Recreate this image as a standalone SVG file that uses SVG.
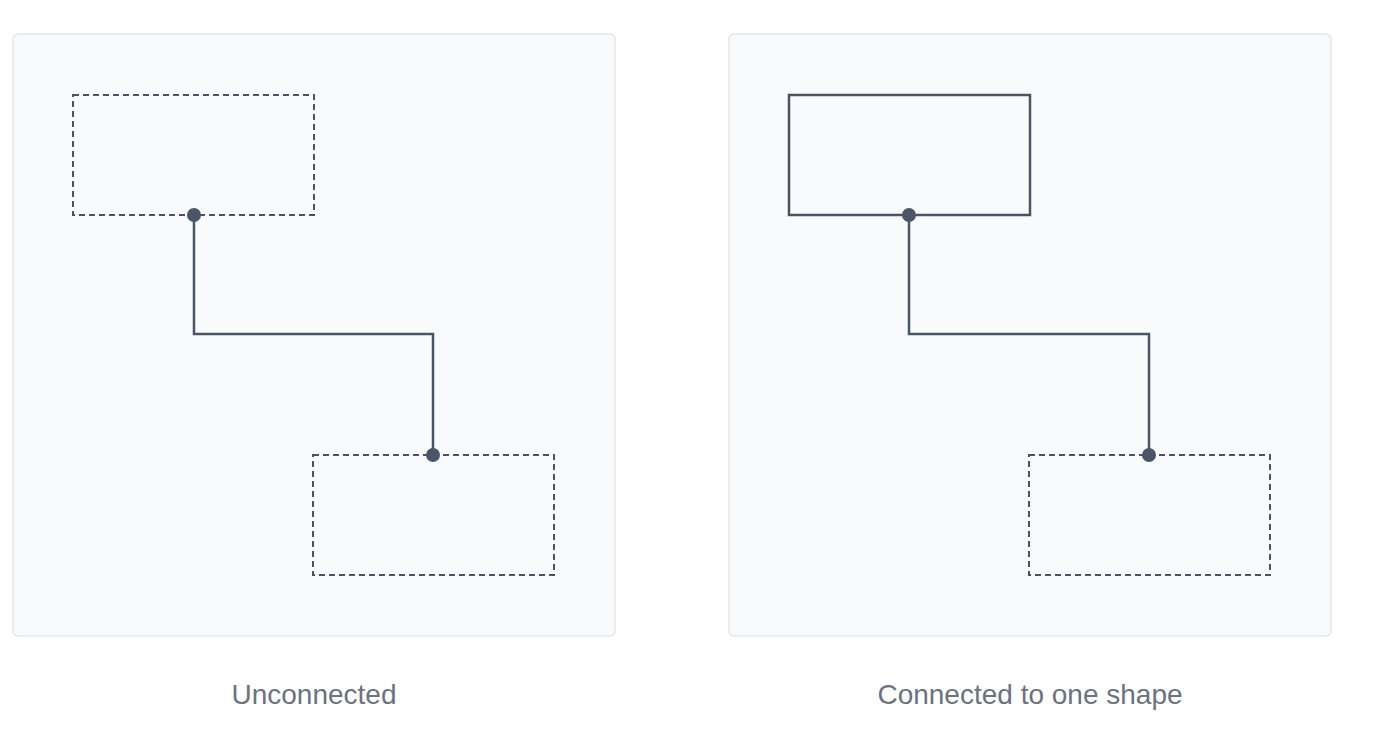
<svg xmlns="http://www.w3.org/2000/svg" width="1388" height="754" viewBox="0 0 1388 754">
<style>
.panel{fill:#f8fafc;stroke:#e2e5ea;stroke-width:1.5}
.dash{fill:none;stroke:#4b5363;stroke-width:2;stroke-dasharray:6,4}
.solid{fill:none;stroke:#4b5363;stroke-width:2.5}
.wire{fill:none;stroke:#4b5568;stroke-width:2.5}
.dot{fill:#4b5568}
.lbl{font-family:"Liberation Sans",Arial,sans-serif;font-size:28px;fill:#6b7280;text-anchor:middle}
</style>
<g id="panel-left">
<rect class="panel" x="13" y="34" width="602" height="602" rx="5"/>
<text class="lbl" x="314" y="704">Unconnected</text>
</g>
<g id="panel-right">
<rect class="panel" x="729" y="34" width="602" height="602" rx="5"/>
<text class="lbl" x="1030" y="704">Connected to one shape</text>
</g>
<g id="left-a"><rect class="dash" x="73" y="95" width="241" height="120"/></g>
<g id="left-b"><rect class="dash" x="313" y="455" width="241" height="120"/></g>
<g id="right-a"><rect class="solid" x="789" y="95" width="241" height="120"/></g>
<g id="right-b"><rect class="dash" x="1029" y="455" width="241" height="120"/></g>
<g id="connectors">
<path class="wire" d="M194 215V334H433V455"/>
<circle class="dot" cx="194" cy="215" r="7"/>
<circle class="dot" cx="433" cy="455" r="7"/>
<path class="wire" d="M909 215V334H1149V455"/>
<circle class="dot" cx="909" cy="215" r="7"/>
<circle class="dot" cx="1149" cy="455" r="7"/>
</g>
</svg>
